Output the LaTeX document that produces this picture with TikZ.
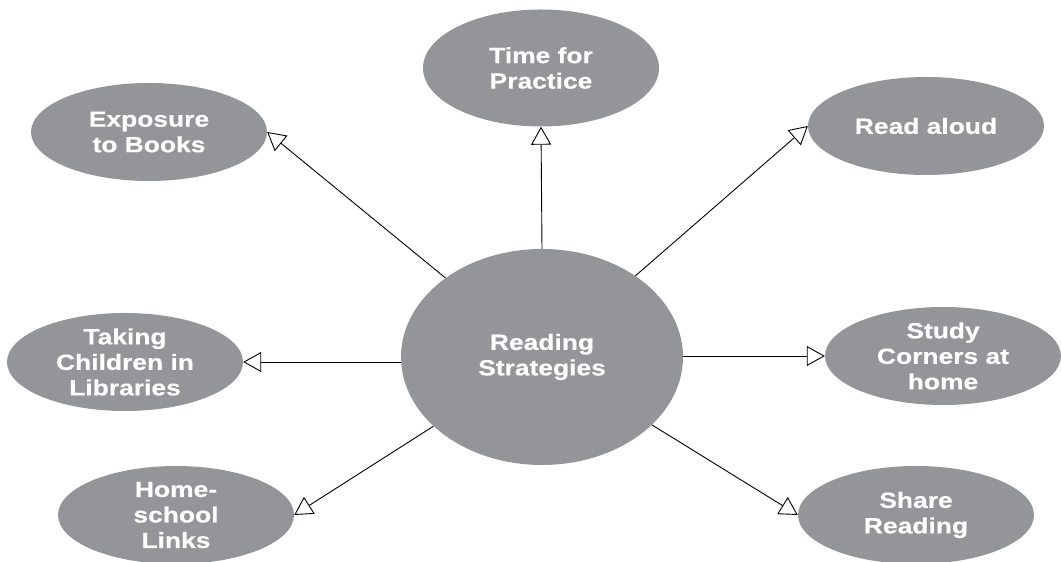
\documentclass[tikz,border=0pt]{standalone}
\usepackage{fontspec}
\setmainfont[FakeStretch=1.2, BoldFeatures={FakeBold=0.4}]{Liberation Sans}
\usetikzlibrary{shapes.geometric,arrows.meta}
\definecolor{bubble}{RGB}{147,149,152}
\begin{document}
\begin{tikzpicture}[x=1pt,y=1pt,
  bub/.style={ellipse, fill=bubble, draw=none, inner sep=0pt,
    minimum width=236pt, minimum height=98pt, text=white, align=center,
    font=\fontsize{22}{25.5}\selectfont\bfseries},
  conn/.style={draw=black, line width=0.9pt,
    -{Triangle[length=18pt,width=20pt,fill=white,line width=0.9pt]}}]
\useasboundingbox (0,0) rectangle (1061,562);
\node[bub, minimum width=282pt, minimum height=216pt] (c) at (542,205) {Reading\\Strategies};
\node[bub, minimum height=117pt] (time) at (541,494) {Time for\\Practice};
\node[bub] (exp) at (149,430) {Exposure\\to Books};
\node[bub] (read) at (926,436) {Read aloud};
\node[bub] (take) at (125,200) {Taking\\Children in\\Libraries};
\node[bub] (study) at (943,206) {Study\\Corners at\\home};
\node[bub] (home) at (176,47) {Home-\\school\\Links};
\node[bub] (share) at (916,47) {Share\\Reading};
\draw[conn] (c) -- (exp.east);
\draw[conn] (c.north) -- (time.south);
\draw[conn] (c) -- (read.west);
\draw[conn] (c.west |- take.east) -- (take.east);
\draw[conn] (c.east |- study.west) -- (study.west);
\draw[conn] (c) -- (home.east);
\draw[conn] (c) -- (share.west);
\end{tikzpicture}
\end{document}
